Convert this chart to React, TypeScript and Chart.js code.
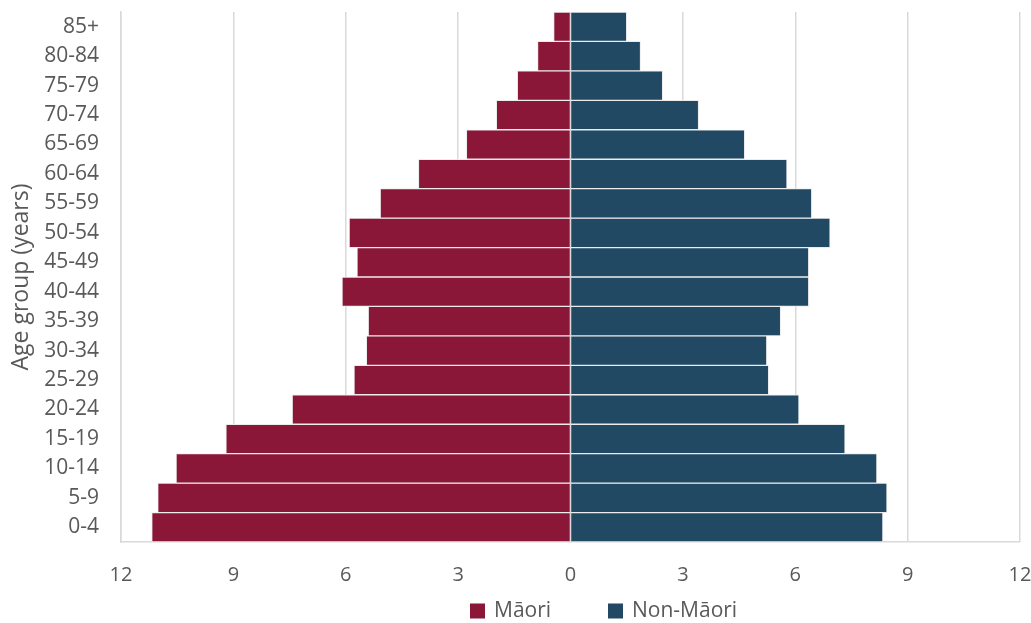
import React, { useEffect, useRef } from "react";
import { Chart, registerables } from "chart.js";

Chart.register(...registerables);

const ageGroups = ["0-4", "5-9", "10-14", "15-19", "20-24", "25-29", "30-34", "35-39", "40-44", "45-49", "50-54", "55-59", "60-64", "65-69", "70-74", "75-79", "80-84", "85+"];
const maoriValues = [11.18, 11.02, 10.53, 9.2, 7.43, 5.78, 5.45, 5.4, 6.1, 5.7, 5.91, 5.08, 4.06, 2.78, 1.98, 1.42, 0.88, 0.45];
const nonMaoriValues = [8.34, 8.45, 8.18, 7.33, 6.1, 5.29, 5.24, 5.61, 6.36, 6.36, 6.93, 6.44, 5.78, 4.65, 3.42, 2.46, 1.87, 1.5];
const seriesLabels = ["Māori", "Non-Māori"];
const seriesColors = ["#8A1738", "#224963"];

const FONT = "'Open Sans', sans-serif";
const TEXT = "#595959";

const legendPlugin = {
  id: "customLegend",
  afterDraw(chart: any) {
    const ctx = chart.ctx;
    ctx.save();
    ctx.font = `21px ${FONT}`;
    ctx.textBaseline = "middle";
    ctx.textAlign = "left";
    const box = 15;
    const gapBoxText = 9;
    const starts = [470, 608];
    const y = 611;
    chart.data.datasets.forEach((d: any, i: number) => {
      const x = starts[i];
      ctx.fillStyle = d.backgroundColor;
      ctx.fillRect(x, y - box / 2, box, box);
      ctx.fillStyle = TEXT;
      ctx.fillText(d.label, x + box + gapBoxText, y);
    });
    ctx.restore();
  },
};

export default function App() {
  const ref = useRef<HTMLCanvasElement | null>(null);
  useEffect(() => {
    document.body.style.margin = "0";
    if (!ref.current) return;
    const chart = new Chart(ref.current, {
      type: "bar",
      data: {
        labels: ageGroups,
        datasets: [
          {
            label: seriesLabels[0],
            data: maoriValues.map((v) => -v),
            backgroundColor: seriesColors[0],
            borderColor: "#ececec",
            borderWidth: 1,
            barPercentage: 1,
            categoryPercentage: 1,
          },
          {
            label: seriesLabels[1],
            data: nonMaoriValues,
            backgroundColor: seriesColors[1],
            borderColor: "#ececec",
            borderWidth: 1,
            barPercentage: 1,
            categoryPercentage: 1,
          },
        ],
      },
      options: {
        indexAxis: "y",
        animation: false,
        responsive: false,
        maintainAspectRatio: false,
        layout: { padding: { top: 12, right: 11, bottom: 36, left: 0 } },
        plugins: {
          legend: { display: false },
          tooltip: { enabled: false },
        },
        scales: {
          x: {
            min: -12,
            max: 12,
            stacked: true,
            ticks: {
              stepSize: 3,
              color: TEXT,
              font: { family: FONT, size: 20 },
              padding: 21,
              maxRotation: 0,
              callback: (v: any) => String(Math.abs(Number(v))),
            },
            grid: { color: "#d9d9d9", lineWidth: 1.5, drawTicks: false },
            border: { color: "#d9d9d9", width: 1.5 },
            afterFit: (s: any) => {
              s.height = 45;
              s.paddingLeft = 0;
              s.paddingRight = 0;
            },
          },
          y: {
            stacked: true,
            reverse: true,
            ticks: {
              color: TEXT,
              font: { family: FONT, size: 21 },
              padding: 22,
            },
            grid: { display: false, drawTicks: false },
            border: { color: "#d9d9d9", width: 1.5 },
            title: {
              display: true,
              text: "Age group (years)",
              color: TEXT,
              font: { family: FONT, size: 23 },
              padding: { top: 8, bottom: 0 },
            },
            afterFit: (s: any) => {
              s.width = 121;
              s.paddingTop = 0;
              s.paddingBottom = 0;
            },
          },
        },
      },
      plugins: [legendPlugin],
    });
    return () => chart.destroy();
  }, []);
  return (
    <div style={{ position: "absolute", left: 0, top: 0, width: 1031, height: 623, background: "#fff" }}>
      <canvas ref={ref} width={1031} height={623} style={{ width: 1031, height: 623 }} />
    </div>
  );
}
